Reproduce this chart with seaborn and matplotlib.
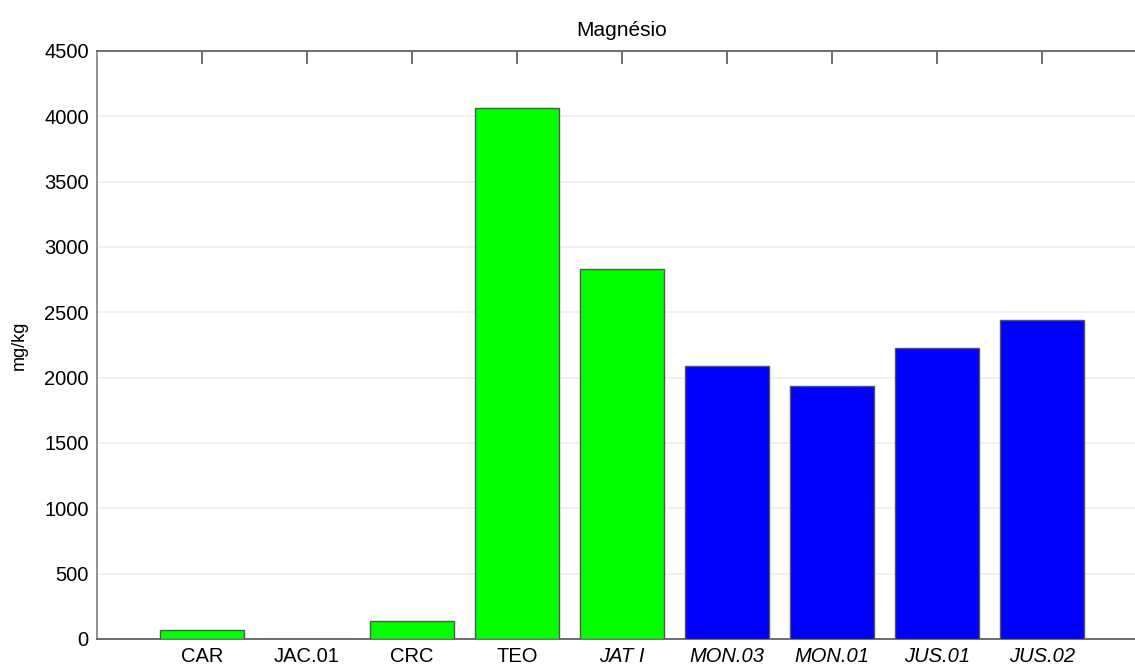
import matplotlib
matplotlib.use("Agg")
import matplotlib.pyplot as plt
import seaborn as sns
import pandas as pd

sites = ["CAR", "JAC.01", "CRC", "TEO", "JAT I", "MON.03", "MON.01", "JUS.01", "JUS.02"]
magnesium = [70, 0, 140, 4060, 2830, 2090, 1935, 2225, 2440]
groups = ["A", "A", "A", "A", "A", "B", "B", "B", "B"]
group_colors = {"A": "#00ff00", "B": "#0000ff"}
italic_labels = ["JAT I", "MON.03", "MON.01", "JUS.01", "JUS.02"]

df = pd.DataFrame({"site": sites, "mg": magnesium, "group": groups})

sns.set_theme(style="white")
plt.rcParams["font.family"] = ["Liberation Sans", "DejaVu Sans"]

fig = plt.figure(figsize=(11.35, 6.66), dpi=100)
ax = fig.add_axes([97 / 1135, 1 - 639 / 666, 1050 / 1135, 588 / 666])

sns.barplot(data=df, x="site", y="mg", hue="group", palette=group_colors,
            dodge=False, width=0.8, saturation=1, edgecolor="#555555", linewidth=1.0,
            legend=False, ax=ax, zorder=3)

ax.set_xlim(-1, 9)
ax.set_ylim(0, 4500)
ax.set_yticks(range(0, 4501, 500))
ax.yaxis.grid(True, color="#efefef", linewidth=1.2, zorder=0)
ax.xaxis.grid(False)

for s in ax.spines.values():
    s.set_color("#555555")
    s.set_linewidth(1.2)
ax.spines["left"].set_color("#808080")

ax.tick_params(axis="both", direction="in", length=9, width=1.2, color="#555555",
               labelsize=14.5, labelcolor="black", top=True, right=True, pad=6)

for lbl in ax.get_xticklabels():
    if lbl.get_text() in italic_labels:
        lbl.set_fontstyle("italic")

ax.set_xlabel("")
ax.set_ylabel("mg/kg", fontsize=13, labelpad=12, color="black")
ax.set_title("Magnésio", fontsize=15, pad=11, color="black")

fig.savefig("out.png", dpi=100)
